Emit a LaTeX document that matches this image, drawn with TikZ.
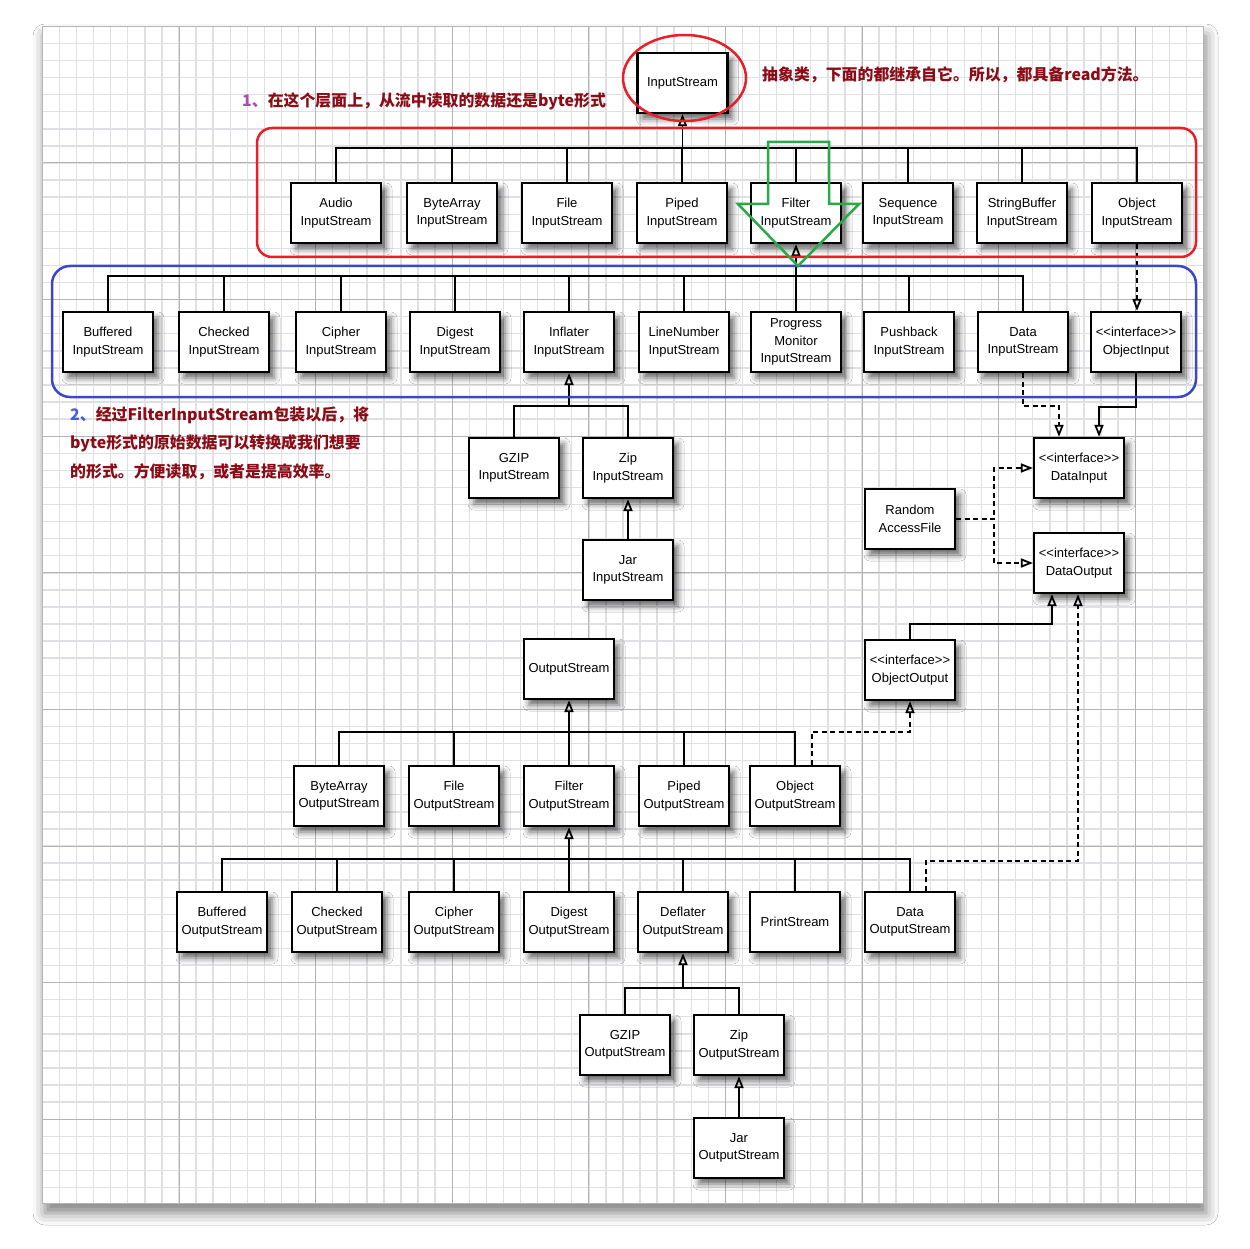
\documentclass[tikz,border=0pt]{standalone}
\usepackage{fontspec}
\setmainfont{Liberation Sans}
\newfontfamily\cjk{Noto Sans CJK SC}
\usetikzlibrary{arrows.meta,shadows.blur}

\definecolor{gridminor}{RGB}{224,224,228}
\definecolor{gridmajor}{RGB}{180,180,184}
\definecolor{notered}{RGB}{138,12,22}
\definecolor{notepurple}{RGB}{165,80,175}
\definecolor{noteblue}{RGB}{70,95,215}
\definecolor{markred}{RGB}{232,30,40}
\definecolor{markblue}{RGB}{60,70,200}
\definecolor{markgreen}{RGB}{40,170,70}

\begin{document}
\begin{tikzpicture}[x=1pt,y=-1pt,
  cls/.style={draw,fill=white,line width=2.2pt,minimum width=90pt,minimum height=60pt,
    inner sep=0pt,align=center,font=\fontsize{13}{17.5}\selectfont,
    blur shadow={shadow xshift=5pt,shadow yshift=-6pt,shadow blur radius=6pt,shadow opacity=60}},
  tree/.style={line width=1.8pt},
  isa/.style={tree,-{Triangle[open,length=12pt,width=9pt]}},
  impl/.style={isa,dash pattern=on 5pt off 3.5pt},
  note/.style={font=\cjk\bfseries\fontsize{15.9}{28.5}\selectfont,text=notered,
    anchor=west,inner sep=0pt,align=left}]

\useasboundingbox (0,0) rectangle (1250,1249);

% Paper
\fill[white] (0,0) rectangle (1250,1249);
\fill[white,blur shadow={shadow xshift=3pt,shadow yshift=-10pt,shadow blur radius=12pt,shadow opacity=50}]
  (42,26) rectangle (1203,1203);
\foreach \i in {1,...,67}
  \draw[gridminor,line width=1.4pt] ({42.4+\i*17.075},26) -- ({42.4+\i*17.075},1203);
\foreach \j in {1,...,68}
  \draw[gridminor,line width=1.4pt] (42,{26.4+\j*17.075}) -- (1203,{26.4+\j*17.075});
\foreach \i in {8,16,...,64}{
  \draw[gridmajor,line width=1pt] ({42.4+\i*17.075},26) -- ({42.4+\i*17.075},1203);
  \draw[gridmajor,line width=1pt] (42,{26.4+\i*17.075}) -- (1203,{26.4+\i*17.075});
}
\draw[gridmajor,line width=0.8pt] (42,26) rectangle (1203,1203);

% InputStream classes
\node[cls] (is) at (682.5,83) {InputStream};
\node[cls] (audio) at (336,213) {Audio\\InputStream};
\node[cls] (bytearr) at (452,213) {ByteArray\\InputStream};
\node[cls] (filein) at (567,213) {File\\InputStream};
\node[cls] (pipedin) at (682,213) {Piped\\InputStream};
\node[cls] (filterin) at (796,213) {Filter\\InputStream};
\node[cls] (sequence) at (908,213) {Sequence\\InputStream};
\node[cls] (strbuf) at (1022,213) {StringBuffer\\InputStream};
\node[cls] (objin) at (1137,213) {Object\\InputStream};

\node[cls] (bufin) at (108,342) {Buffered\\InputStream};
\node[cls] (checkin) at (224,342) {Checked\\InputStream};
\node[cls] (cipherin) at (341,342) {Cipher\\InputStream};
\node[cls] (digestin) at (455,342) {Digest\\InputStream};
\node[cls] (inflater) at (569,342) {Inflater\\InputStream};
\node[cls] (linenum) at (684,342) {LineNumber\\InputStream};
\node[cls] (progress) at (796,342) {Progress\\Monitor\\InputStream};
\node[cls] (pushback) at (909,342) {Pushback\\InputStream};
\node[cls] (datais) at (1023,342) {Data\\InputStream};
\node[cls] (objinput) at (1136,342) {<{}<interface>{}>\\ObjectInput};

\node[cls] (gzipin) at (514,468) {GZIP\\InputStream};
\node[cls] (zipin) at (628,468) {Zip\\InputStream};
\node[cls] (jarin) at (628,570) {Jar\\InputStream};

% Interfaces
\node[cls] (datainput) at (1079,468) {<{}<interface>{}>\\DataInput};
\node[cls] (raf) at (910,519) {Random\\AccessFile};
\node[cls] (dataoutput) at (1079,563) {<{}<interface>{}>\\DataOutput};
\node[cls] (objoutput) at (910,670) {<{}<interface>{}>\\ObjectOutput};

% OutputStream classes
\node[cls] (os) at (569,669) {OutputStream};
\node[cls] (bytearrout) at (339,796) {ByteArray\\OutputStream};
\node[cls] (fileout) at (454,796) {File\\OutputStream};
\node[cls] (filterout) at (569,796) {Filter\\OutputStream};
\node[cls] (pipedout) at (684,796) {Piped\\OutputStream};
\node[cls] (objout) at (795,796) {Object\\OutputStream};

\node[cls] (bufout) at (222,922) {Buffered\\OutputStream};
\node[cls] (checkout) at (337,922) {Checked\\OutputStream};
\node[cls] (cipherout) at (454,922) {Cipher\\OutputStream};
\node[cls] (digestout) at (569,922) {Digest\\OutputStream};
\node[cls] (deflater) at (683,922) {Deflater\\OutputStream};
\node[cls] (printstream) at (795,922) {PrintStream};
\node[cls] (dataos) at (910,922) {Data\\OutputStream};

\node[cls] (gzipout) at (625,1045) {GZIP\\OutputStream};
\node[cls] (zipout) at (739,1045) {Zip\\OutputStream};
\node[cls] (jarout) at (739,1148) {Jar\\OutputStream};

% Input trees
\coordinate (inbus) at (682.5,148);
\draw[tree] (audio.north) |- (inbus) -| (objin.north);
\foreach \n in {bytearr,filein,pipedin,filterin,sequence,strbuf}
  \draw[tree] (\n.north) -- (\n.north |- inbus);
\draw[isa] (inbus) -- (is.south);

\coordinate (filterbus) at (796,276);
\draw[tree] (bufin.north) |- (filterbus) -| (datais.north);
\foreach \n in {checkin,cipherin,digestin,inflater,linenum,progress,pushback}
  \draw[tree] (\n.north) -- (\n.north |- filterbus);
\draw[isa] (filterbus) -- (filterin.south);

\coordinate (inflbus) at (569,406);
\draw[tree] (gzipin.north) |- (inflbus) -| (zipin.north);
\draw[isa] (inflbus) -- (inflater.south);
\draw[isa] (jarin.north) -- (zipin.south);

% Interface links
\draw[impl] (objin.south) -- (objin.south |- objinput.north);
\draw[impl] (datais.south) -- ++(0,33) -| ([xshift=-20pt]datainput.north);
\draw[isa] (objinput.south) -- ++(0,34) -| ([xshift=20pt]datainput.north);
\draw[impl] (raf.east) -- ++(38,0) |- (datainput.west);
\draw[impl] (raf.east) -- ++(38,0) |- (dataoutput.west);

% Output trees
\coordinate (outbus) at (569,732);
\draw[tree] (bytearrout.north) |- (outbus) -| (objout.north);
\foreach \n in {fileout,filterout,pipedout}
  \draw[tree] (\n.north) -- (\n.north |- outbus);
\draw[isa] (outbus) -- (os.south);

\coordinate (foutbus) at (569,859);
\draw[tree] (bufout.north) |- (foutbus) -| (dataos.north);
\foreach \n in {checkout,cipherout,digestout,deflater,printstream}
  \draw[tree] (\n.north) -- (\n.north |- foutbus);
\draw[isa] (foutbus) -- (filterout.south);

\coordinate (deflbus) at (683,988);
\draw[tree] (gzipout.north) |- (deflbus) -| (zipout.north);
\draw[isa] (deflbus) -- (deflater.south);
\draw[isa] (jarout.north) -- (zipout.south);

\draw[impl] ([xshift=17pt]objout.north) -- ++(0,-33) -| (objoutput.south);
\draw[isa] (objoutput.north) -- ++(0,-15) -| ([xshift=-27pt]dataoutput.south);
\draw[impl] ([xshift=16pt]dataos.north) -- ++(0,-30) -| ([xshift=-1pt]dataoutput.south);

% Marks
\draw[markred,line width=2.5pt] (684.5,78) ellipse[x radius=61.5,y radius=43];
\draw[markred,line width=2.5pt,rounded corners=15pt] (257,128) rectangle (1196,257);
\draw[markblue,line width=2.5pt,rounded corners=18pt] (52,266) rectangle (1196,397);
\draw[markgreen,line width=2.5pt] (768,142) -- (829,142) -- (829,204) -- (859,204)
  -- (798,266) -- (738,204) -- (768,204) -- cycle;

% Notes
\node[note] (note1) at (242,101) {\textcolor{notepurple}{1、}在这个层面上，从流中读取的数据还是byte形式};
\node[note] (note2) at (762,75) {抽象类，下面的都继承自它。所以，都具备read方法。};
\node[note] (note3) at (70,443) {\textcolor{noteblue}{2、}经过FilterInputStream包装以后，将\\
  byte形式的原始数据可以转换成我们想要\\的形式。方便读取，或者是提高效率。};

\end{tikzpicture}
\end{document}
